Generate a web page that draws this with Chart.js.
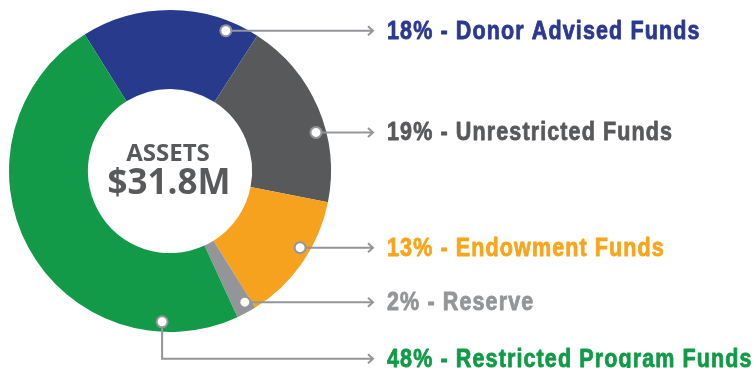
<!DOCTYPE html>
<html>
<head>
<meta charset="utf-8">
<title>Assets</title>
<script src="https://cdn.jsdelivr.net/npm/chart.js@4.4.1/dist/chart.umd.min.js"></script>
<style>
  html, body { margin: 0; padding: 0; background: #ffffff; }
  #wrap { width: 756px; height: 368px; position: relative; }
</style>
</head>
<body>
<div id="wrap"><canvas id="assets"></canvas></div>
<script>
// Fund categories and their share of total assets (%)
const categories = ['Donor Advised Funds', 'Unrestricted Funds', 'Endowment Funds', 'Reserve', 'Restricted Program Funds'];
const shares = [18, 19, 13, 2, 48];
const centerTitle = 'ASSETS';
const centerTotal = '$31.8M';

// Styling
const sliceColors = ['#283a8c', '#58595b', '#f7a21f', '#939598', '#129a48'];
const labelColors = ['#2b3990', '#58595b', '#f9a51b', '#939598', '#139a48'];
const calloutAngles = [21.7, 75.2, 120.5, 150.3, 183];   // degrees clockwise from 12 o'clock
const calloutDrop = [0, 0, 0, 0, 37];                    // vertical leg below the marker, px
const leaderGray = '#939598';
const centerGray = '#58595b';
const labelCondense = 0.86;                              // horizontal squeeze for the condensed label face

const callouts = {
  id: 'callouts',
  afterDatasetsDraw(chart) {
    const ctx = chart.ctx;
    const arcs = chart.getDatasetMeta(0).data;
    const cx = arcs[0].x, cy = arcs[0].y, R = arcs[0].outerRadius;
    const markerR = R - 10;
    const arrowTipX = 373;
    const textX = 387;

    // centre text
    ctx.save();
    ctx.fillStyle = centerGray;
    ctx.textAlign = 'center';
    ctx.textBaseline = 'alphabetic';
    ctx.font = 'bold 24px "Open Sans", sans-serif';
    ctx.fillText(centerTitle, cx - 2, cy - 10);
    ctx.font = 'bold 35px "Open Sans", sans-serif';
    ctx.fillText(centerTotal, cx - 1, cy + 23);
    ctx.restore();

    categories.forEach((cat, i) => {
      const a = calloutAngles[i] * Math.PI / 180;
      const mx = cx + markerR * Math.sin(a);
      const my = cy - markerR * Math.cos(a);
      const rowY = my + calloutDrop[i];

      ctx.save();
      ctx.strokeStyle = leaderGray;
      ctx.lineWidth = 2;
      ctx.lineJoin = 'miter';
      ctx.beginPath();
      ctx.moveTo(mx, my);
      if (calloutDrop[i]) ctx.lineTo(mx, rowY);
      ctx.lineTo(arrowTipX, rowY);
      ctx.stroke();
      // open arrow head
      ctx.beginPath();
      ctx.moveTo(arrowTipX - 5, rowY - 4.5);
      ctx.lineTo(arrowTipX, rowY);
      ctx.lineTo(arrowTipX - 5, rowY + 4.5);
      ctx.stroke();
      // marker
      ctx.beginPath();
      ctx.arc(mx, my, 5.5, 0, Math.PI * 2);
      ctx.fillStyle = '#ffffff';
      ctx.fill();
      ctx.stroke();

      // label, drawn in a horizontally condensed heavy sans
      const text = shares[i] + '% - ' + cat;
      ctx.translate(textX, rowY + 8);
      ctx.scale(labelCondense, 1);
      ctx.fillStyle = labelColors[i];
      ctx.strokeStyle = labelColors[i];
      ctx.lineWidth = 0.8;
      ctx.lineJoin = 'round';
      ctx.font = 'bold 25px "Liberation Sans", Arial, sans-serif';
      ctx.textAlign = 'left';
      ctx.textBaseline = 'alphabetic';
      if ('letterSpacing' in ctx) ctx.letterSpacing = '1.3px';
      ctx.fillText(text, 0, 0);
      ctx.strokeText(text, 0, 0);
      ctx.restore();
    });
  }
};

new Chart(document.getElementById('assets'), {
  type: 'doughnut',
  data: {
    labels: categories,
    datasets: [{
      data: shares,
      backgroundColor: sliceColors,
      borderWidth: 0
    }]
  },
  options: {
    responsive: true,
    maintainAspectRatio: false,
    animation: false,
    rotation: -32,
    cutout: '51%',
    layout: { padding: { left: 9, top: 10, right: 425, bottom: 36 } },
    plugins: {
      legend: { display: false },
      tooltip: { enabled: false }
    }
  },
  plugins: [callouts]
});
</script>
</body>
</html>
